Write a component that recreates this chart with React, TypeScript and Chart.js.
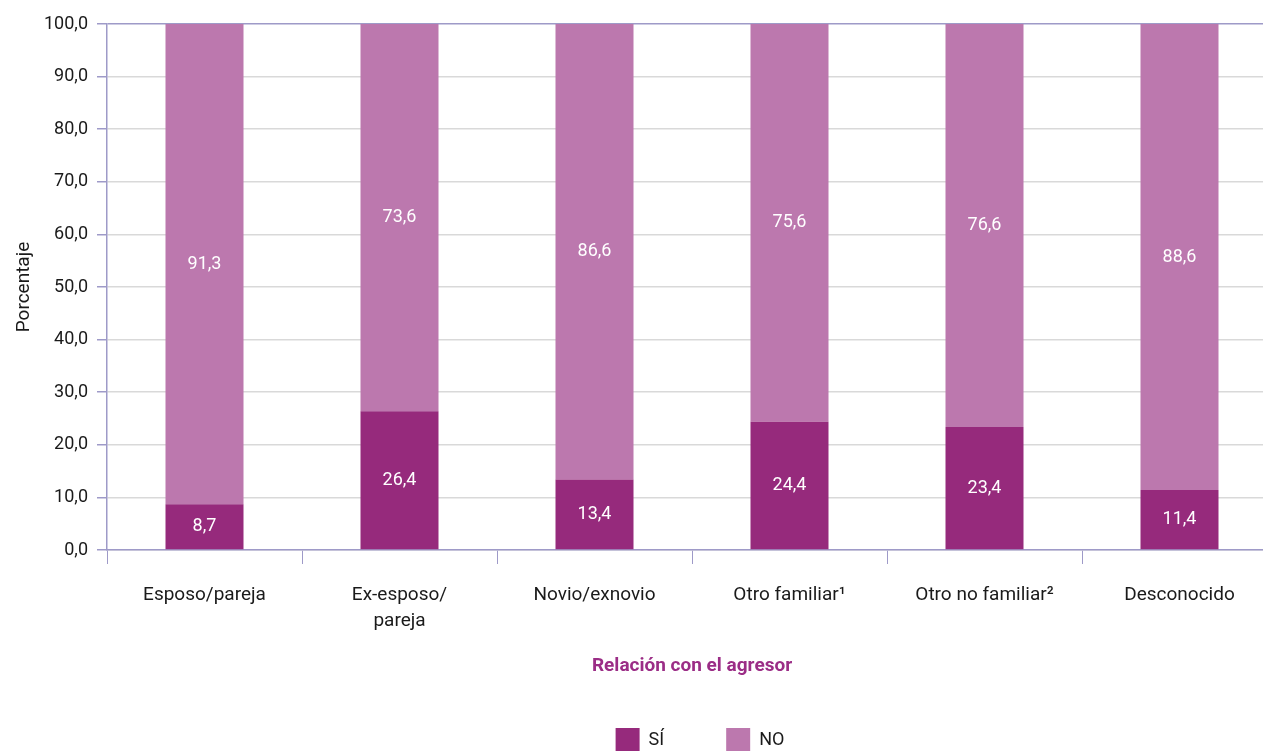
import React, { useEffect, useRef } from "react";
import { Chart, registerables } from "chart.js";

Chart.register(...registerables);

const categories: (string | string[])[] = [
  "Esposo/pareja",
  ["Ex-esposo/", "pareja"],
  "Novio/exnovio",
  "Otro familiar¹",
  "Otro no familiar²",
  "Desconocido",
];
const siValues = [8.7, 26.4, 13.4, 24.4, 23.4, 11.4];
const noValues = [91.3, 73.6, 86.6, 75.6, 76.6, 88.6];
const seriesNames = ["SÍ", "NO"];
const yTitle = "Porcentaje";
const xTitle = "Relación con el agresor";

const SI_COLOR = "#962A7C";
const NO_COLOR = "#BC78AE";
const AXIS_COLOR = "#9E9AC8";
const GRID_COLOR = "#D9D9D9";
const FONT = "Roboto";

const fmt = (v: number) => v.toFixed(1).replace(".", ",");

const dataLabels = {
  id: "dataLabels",
  afterDatasetsDraw(chart: any) {
    const ctx = chart.ctx;
    ctx.save();
    ctx.fillStyle = "#ffffff";
    ctx.font = `18px ${FONT}`;
    ctx.textAlign = "center";
    ctx.textBaseline = "middle";
    chart.data.datasets.forEach((ds: any, di: number) => {
      const meta = chart.getDatasetMeta(di);
      meta.data.forEach((bar: any, i: number) => {
        const v = ds.data[i];
        const props = bar.getProps(["x", "y", "base"], true);
        const cy = (props.y + props.base) / 2;
        ctx.fillText(fmt(v), props.x, cy);
      });
    });
    ctx.restore();
  },
};

const legendShift = {
  id: "legendShift",
  afterLayout(chart: any) {
    if (chart.legend) {
      chart.legend.left += 8;
      chart.legend.right += 8;
      chart.legend.top -= 3;
      chart.legend.bottom -= 3;
    }
  },
};

export default function App() {
  const ref = useRef<HTMLCanvasElement | null>(null);
  useEffect(() => {
    document.body.style.margin = "0";
    document.body.style.overflow = "hidden";
    if (!ref.current) return;
    const chart = new Chart(ref.current, {
      type: "bar",
      data: {
        labels: categories,
        datasets: [
          {
            label: seriesNames[0],
            data: siValues,
            backgroundColor: SI_COLOR,
            categoryPercentage: 1,
            barPercentage: 0.4,
          },
          {
            label: seriesNames[1],
            data: noValues,
            backgroundColor: NO_COLOR,
            categoryPercentage: 1,
            barPercentage: 0.4,
          },
        ],
      },
      options: {
        animation: false,
        responsive: false,
        devicePixelRatio: 1,
        layout: { padding: { left: 0, right: 13, top: 24, bottom: 0 } },
        plugins: {
          tooltip: { enabled: false },
          legend: {
            position: "bottom",
            fullSize: false,
            labels: {
              boxWidth: 24,
              boxHeight: 24,
              padding: 62,
              color: "#1a1a1a",
              font: { family: FONT, size: 18 },
            },
          },
        },
        scales: {
          x: {
            stacked: true,
            grid: {
              offset: true,
              drawOnChartArea: false,
              drawTicks: true,
              tickLength: 14,
              tickColor: AXIS_COLOR,
              color: AXIS_COLOR,
            },
            border: { color: AXIS_COLOR, width: 1.5 },
            ticks: {
              color: "#1a1a1a",
              padding: 18,
              maxRotation: 0,
              autoSkip: false,
              font: { family: FONT, size: 19, lineHeight: 1.37 },
            },
            title: {
              display: true,
              text: xTitle,
              color: "#9B2D86",
              font: { family: FONT, size: 19, weight: "bold", lineHeight: 1.2 },
              padding: { top: 0, bottom: -9 },
            },
            afterFit: (scale: any) => {
              scale.height = 119;
            },
          },
          y: {
            stacked: true,
            min: 0,
            max: 100,
            ticks: {
              stepSize: 10,
              padding: 9,
              color: "#1a1a1a",
              font: { family: FONT, size: 18 },
              callback: (v: any) => fmt(Number(v)),
            },
            grid: {
              color: (c: any) => (c.tick && c.tick.value === 100 ? AXIS_COLOR : GRID_COLOR),
              lineWidth: 1.5,
              tickLength: 10,
              tickColor: AXIS_COLOR,
            },
            border: { color: AXIS_COLOR, width: 1.5 },
            title: {
              display: true,
              text: yTitle,
              color: "#1a1a1a",
              font: { family: FONT, size: 19, lineHeight: 1.2 },
              padding: { top: 13, bottom: 0 },
            },
            afterFit: (scale: any) => {
              scale.width = 107;
            },
          },
        },
      },
      plugins: [dataLabels, legendShift],
    });
    return () => chart.destroy();
  }, []);
  return (
    <div style={{ position: "absolute", left: 0, top: 0, width: 1263, height: 751, overflow: "hidden" }}>
      <canvas ref={ref} width={1290} height={765} style={{ display: "block" }} />
    </div>
  );
}
